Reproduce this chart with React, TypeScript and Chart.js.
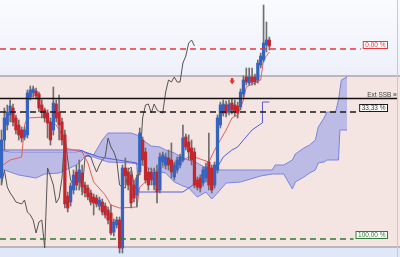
import React, { useEffect, useRef } from "react";
import { Chart, registerables } from "chart.js";
Chart.register(...registerables);

// Candles (price units), one per period
const OPEN = [79,117,132,142,149,139,132,127,120,122, 160,164,166,163,152,147,144,135,127,153, 145,135,122,61,55,67,85,75,84,72, 69,64,60,59,51,55,51,47,44,25, 32,37,9,89,85,82,72,62,85,117, 105,85,85,72,85,67,95,92,99,97, 80,87,92,97,120,115,109,105,77,79, 74,79,95,89,72,87,132,144,152,145, 154,152,151,150,163,180,174,180,180,177, 192,197,212,217];
const CLOSE = [117,139,145,151,135,127,122,119,127,164, 167,168,161,149,145,139,134,117,154,139, 132,117,53,49,71,82,72,87,70,64, 60,55,54,53,57,45,42,37,24,35, 37,9,89,81,72,54,59,79,124,97, 77,72,77,85,65,100,102,100,92,85, 92,97,100,119,110,105,97,72,70,69, 87,90,72,67,92,139,152,153,144,153, 147,145,144,165,177,175,180,175,175,194, 201,214,217,211];
const HIGH = [127,149,152,157,153,142,137,130,130,167, 171,171,169,165,157,149,147,139,170,157, 162,139,127,65,74,87,92,97,92,75, 72,67,63,62,60,58,54,50,52,38, 40,40,92,99,89,87,77,82,129,120, 109,89,89,89,92,104,105,104,107,114, 95,100,103,132,123,122,117,109,80,82, 90,94,124,92,95,142,155,157,156,157, 158,157,155,168,181,189,189,189,183,197, 204,252,235,220];
const LOW = [72,107,127,135,131,123,117,115,117,119, 157,160,158,145,139,135,119,112,122,135, 117,112,49,45,51,63,67,67,62,60, 57,52,42,50,47,42,39,33,22,21, 29,4,4,72,67,49,55,50,82,92, 74,67,72,67,54,64,91,88,87,79, 77,84,89,95,107,97,92,69,67,65, 71,75,67,64,69,84,129,141,140,142, 143,141,139,147,160,172,172,172,172,174, 189,195,205,207];
const CHIKOU_SHIFT = 26;

// Ichimoku lines (period index, price)
const TENKAN_X = [-1,3,7,8,9,15,17,19,21,22,28,30,32,36,38,41,47,48,52,55,58,60,63,65,67,69,72,74,76,78,80,82,84,85,88,90,91,93];
const TENKAN_Y = [89,97,100,132,139,140,135,132,122,109,105,94,75,62,52,49,50,70,80,88,93,93,97,100,100,98,95,107,117,127,139,142,157,170,174,177,197,205];
const KIJUN_X = [-1,27,34,47,47.5,63,65,69,70,73,75,77,80,82,84,87,90.5,90.6,93];
const KIJUN_Y = [107,107,100,94,65,65,69,77,87,87,90,100,107,110,117,127,134,155,155];
const SPAN_X = [-1,3,6,12,15,20,26,28,29,32,35,37,45,47,49,52,55,57,60,63,65,68,71,73,75,78,83,90,94,95,98,101,102,105,107,109,110,112,113,116,117,117.5,118,120];
const SPAN_A = [107,105,105,105,105,105,105,107,104,102,117,124,124,122,117,111,110,107,104,99,97,94,89,87,87,87,87,87,87,92,92,97,103,109,112,117,130,139,145,145,157,167,177,180];
const SPAN_B = [89,85,82,79,83,84,92,97,101,100,97,95,94,93,92,87,85,84,75,71,69,60,65,58,64,74,75,81,83,83,83,68,75,80,84,87,94,95,97,97,97,127,127,127];

// Fibonacci levels and zone
const LEVEL_LABELS = ["0,00 %", "33,33 %", "100,00 %"];
const LEVEL_VALUES = [208, 145, 18];
const LEVEL_COLORS = ["#e23a3f", "#1a1a1a", "#2e7a36"];
const EXT_SSB_LABEL = "Ext SSB \u2261";
const EXT_SSB_VALUE = 159;
const ZONE_TOP = 181;
const ZONE_BOTTOM = 10;
const SIGNAL_INDEX = 80;
const SIGNAL_VALUE = 175;

const X_MIN = -0.52;
const X_MAX = 138.37;
const Y_MIN = 0;
const Y_MAX = 257;

const BLUE = "#3563c2";
const RED = "#c4262e";

const decor = {
  id: "decor",
  beforeDatasetsDraw(chart: any) {
    const { ctx, chartArea: a, scales } = chart;
    const y = scales.y;
    const zt = y.getPixelForValue(ZONE_TOP);
    const zb = y.getPixelForValue(ZONE_BOTTOM);
    ctx.save();
    const g = ctx.createLinearGradient(0, a.top, 0, zt);
    g.addColorStop(0, "#fafbfe");
    g.addColorStop(1, "#edf0f9");
    ctx.fillStyle = g;
    ctx.fillRect(a.left, a.top, a.width, zt - a.top);
    ctx.fillStyle = "#f4e5e3";
    ctx.fillRect(a.left, zt, a.width, zb - zt);
    ctx.fillStyle = "#dfe8f8";
    ctx.fillRect(a.left, zb, a.width, a.bottom - zb);
    ctx.strokeStyle = "#bdb5b8";
    ctx.lineWidth = 2;
    ctx.beginPath();
    ctx.moveTo(a.left, zt);
    ctx.lineTo(a.right, zt);
    ctx.moveTo(a.left, zb);
    ctx.lineTo(a.right, zb);
    ctx.stroke();
    ctx.strokeStyle = "#c9c9d2";
    ctx.lineWidth = 1;
    ctx.beginPath();
    ctx.moveTo(a.right - 2.5, a.top);
    ctx.lineTo(a.right - 2.5, a.bottom);
    ctx.stroke();
    ctx.restore();
  },
  afterDatasetsDraw(chart: any) {
    const { ctx, chartArea: a, scales } = chart;
    const y = scales.y;
    const x = scales.x;
    ctx.save();
    ctx.font = '6.5px "Liberation Sans", Arial, sans-serif';
    // Ext SSB solid line
    const sy = Math.round(y.getPixelForValue(EXT_SSB_VALUE)) + 0.5;
    ctx.strokeStyle = "#111";
    ctx.lineWidth = 1.3;
    ctx.setLineDash([]);
    ctx.beginPath();
    ctx.moveTo(a.left, sy);
    ctx.lineTo(a.right - 3, sy);
    ctx.stroke();
    ctx.fillStyle = "#444";
    ctx.textAlign = "right";
    ctx.textBaseline = "alphabetic";
    ctx.fillText(EXT_SSB_LABEL, a.right - 3, sy - 2);
    // Fibonacci levels
    LEVEL_VALUES.forEach((v, i) => {
      const ly = Math.round(y.getPixelForValue(v));
      const label = LEVEL_LABELS[i];
      const w = ctx.measureText(label).width + 5;
      const right = 388;
      const left = right - w;
      ctx.strokeStyle = LEVEL_COLORS[i];
      ctx.lineWidth = 1.6;
      ctx.setLineDash([6, 4]);
      ctx.beginPath();
      ctx.moveTo(a.left, ly);
      ctx.lineTo(left - 2, ly);
      ctx.stroke();
      ctx.setLineDash([]);
      ctx.fillStyle = "#ffffff";
      ctx.fillRect(left, ly - 7.5, w, 7);
      ctx.lineWidth = 1;
      ctx.strokeRect(left + 0.5, ly - 7.5, w - 1, 7);
      ctx.fillStyle = i === 1 ? "#333" : LEVEL_COLORS[i];
      ctx.textAlign = "center";
      ctx.textBaseline = "middle";
      ctx.fillText(label, left + w / 2, ly - 3.8);
    });
    // signal arrow
    const px = x.getPixelForValue(SIGNAL_INDEX);
    const py = y.getPixelForValue(SIGNAL_VALUE);
    ctx.fillStyle = "#e8302e";
    ctx.fillRect(px - 1, py - 4, 2.5, 3);
    ctx.beginPath();
    ctx.moveTo(px - 2.5, py - 1.5);
    ctx.lineTo(px + 3, py - 1.5);
    ctx.lineTo(px + 0.25, py + 2.5);
    ctx.closePath();
    ctx.fill();
    ctx.restore();
  },
};

export default function App() {
  const ref = useRef<HTMLCanvasElement>(null);
  useEffect(() => {
    const idx = OPEN.map((_, i) => i);
    const chikou = CLOSE.slice(CHIKOU_SHIFT).map((c, k) => ({ x: k, y: c }));
    const chart = new Chart(ref.current as HTMLCanvasElement, {
      type: "bar",
      data: {
        datasets: [
          {
            type: "bar",
            label: "body",
            data: idx.map((i) => ({ x: i, y: [OPEN[i], CLOSE[i]] })) as any,
            backgroundColor: idx.map((i) => (CLOSE[i] >= OPEN[i] ? BLUE : RED)),
            barThickness: 2.6,
            minBarLength: 1,
            grouped: false,
            borderWidth: 0,
            order: 0,
          } as any,
          {
            type: "bar",
            label: "wick",
            data: idx.map((i) => ({ x: i, y: [LOW[i], HIGH[i]] })) as any,
            backgroundColor: "#6e6e6e",
            barThickness: 1,
            grouped: false,
            borderWidth: 0,
            order: 1,
          } as any,
          {
            type: "line",
            label: "tenkan",
            data: TENKAN_X.map((v, k) => ({ x: v, y: TENKAN_Y[k] })),
            borderColor: "#e2605e",
            borderWidth: 1,
            pointRadius: 0,
            tension: 0,
            order: 2,
          } as any,
          {
            type: "line",
            label: "kijun",
            data: KIJUN_X.map((v, k) => ({ x: v, y: KIJUN_Y[k] })),
            borderColor: "#5b5bd2",
            borderWidth: 1,
            pointRadius: 0,
            tension: 0,
            order: 3,
          } as any,
          {
            type: "line",
            label: "chikou",
            data: chikou,
            borderColor: "#555555",
            borderWidth: 1,
            pointRadius: 0,
            tension: 0,
            order: 4,
          } as any,
          {
            type: "line",
            label: "spanA",
            data: SPAN_X.map((v, k) => ({ x: v, y: SPAN_A[k] })),
            borderColor: "#7c84dc",
            backgroundColor: "rgba(120,135,230,0.45)",
            borderWidth: 1,
            pointRadius: 0,
            tension: 0,
            fill: "+1",
            order: 5,
          } as any,
          {
            type: "line",
            label: "spanB",
            data: SPAN_X.map((v, k) => ({ x: v, y: SPAN_B[k] })),
            borderColor: "#7c84dc",
            borderWidth: 1,
            pointRadius: 0,
            tension: 0,
            fill: false,
            order: 6,
          } as any,
        ],
      },
      options: {
        animation: false,
        responsive: true,
        maintainAspectRatio: false,
        devicePixelRatio: 1,
        layout: { padding: 0 },
        plugins: { legend: { display: false }, tooltip: { enabled: false } },
        scales: {
          x: { type: "linear", min: X_MIN, max: X_MAX, display: false, offset: false, grid: { display: false } },
          y: { type: "linear", min: Y_MIN, max: Y_MAX, display: false, grid: { display: false } },
        },
      },
      plugins: [decor],
    } as any);
    return () => chart.destroy();
  }, []);
  return (
    <div style={{ position: "fixed", left: 0, top: 0, width: 400, height: 257 }}>
      <canvas ref={ref} />
    </div>
  );
}
